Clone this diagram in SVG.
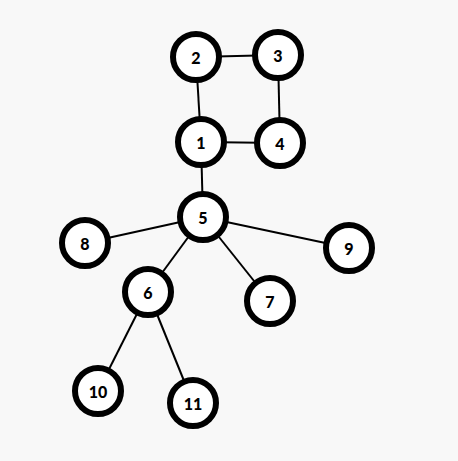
<svg xmlns="http://www.w3.org/2000/svg" width="458" height="461" viewBox="0 0 458 461">
<style>
.n circle{fill:#fff;stroke:#000;stroke-width:6}
.n text{font-family:Lato,"Liberation Sans",sans-serif;font-weight:900;font-size:16px;text-anchor:middle;dominant-baseline:central;fill:#000}
#edges line{stroke:#000;stroke-width:2}
</style>
<rect width="458" height="461" fill="#f8f8f8"/>
<g id="edges">
<line x1="196" y1="57" x2="278" y2="55"/>
<line x1="196" y1="57" x2="201" y2="142"/>
<line x1="278" y1="55" x2="280" y2="143"/>
<line x1="201" y1="142" x2="280" y2="143"/>
<line x1="201" y1="142" x2="203" y2="217"/>
<line x1="203" y1="217" x2="85" y2="243"/>
<line x1="203" y1="217" x2="349" y2="248"/>
<line x1="203" y1="217" x2="148" y2="292"/>
<line x1="203" y1="217" x2="270" y2="301"/>
<line x1="148" y1="292" x2="98" y2="391"/>
<line x1="148" y1="292" x2="193" y2="403"/>
</g>
<g id="n1" class="n"><circle cx="201" cy="142" r="23"/><text x="201" y="142">1</text></g>
<g id="n2" class="n"><circle cx="196" cy="57" r="23"/><text x="196" y="57">2</text></g>
<g id="n3" class="n"><circle cx="278" cy="55" r="23"/><text x="278" y="55">3</text></g>
<g id="n4" class="n"><circle cx="280" cy="143" r="23"/><text x="280" y="143">4</text></g>
<g id="n5" class="n"><circle cx="203" cy="217" r="23"/><text x="203" y="217">5</text></g>
<g id="n6" class="n"><circle cx="148" cy="292" r="23"/><text x="148" y="292">6</text></g>
<g id="n7" class="n"><circle cx="270" cy="301" r="23"/><text x="270" y="301">7</text></g>
<g id="n8" class="n"><circle cx="85" cy="243" r="23"/><text x="85" y="243">8</text></g>
<g id="n9" class="n"><circle cx="349" cy="248" r="23"/><text x="349" y="248">9</text></g>
<g id="n10" class="n"><circle cx="98" cy="391" r="23"/><text x="98" y="391">10</text></g>
<g id="n11" class="n"><circle cx="193" cy="403" r="23"/><text x="193" y="403">11</text></g>
</svg>
